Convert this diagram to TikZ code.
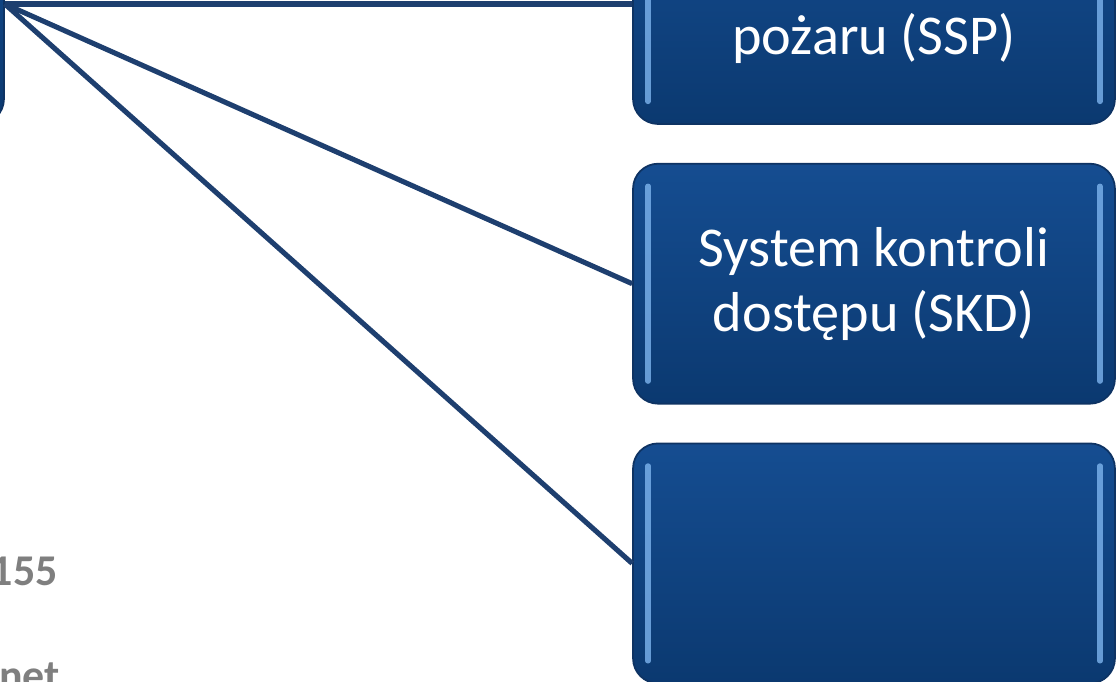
\documentclass[tikz,border=0pt]{standalone}
\usepackage{fontspec}
\setmainfont{Carlito}
\usetikzlibrary{positioning, shadings}

\definecolor{boxtop}{HTML}{154D91}
\definecolor{boxbottom}{HTML}{0B3970}
\definecolor{boxline}{HTML}{0E3363}
\definecolor{edgelight}{HTML}{7DB4EE}
\definecolor{linkblue}{HTML}{1E3F6F}
\definecolor{notegray}{HTML}{7F7F7F}

\begin{document}
\begin{tikzpicture}[x=0.02cm, y=-0.02cm,
		block/.style={
			rectangle,
			draw=boxline,
			line width=1pt,
			top color=boxtop,
			bottom color=boxbottom,
			minimum width=9.64cm,
			minimum height=4.8cm,
			rounded corners=0.5cm,
			align=center,
			text=white,
			font=\fontsize{32}{37}\selectfont,
			path picture={
				\draw [edgelight, line width=3pt, line cap=round, opacity=0.8]
					([xshift=0.3cm, yshift=-0.45cm]path picture bounding box.north west) --
					([xshift=0.3cm, yshift=0.45cm]path picture bounding box.south west);
				\draw [edgelight, line width=3pt, line cap=round, opacity=0.8]
					([xshift=-0.3cm, yshift=-0.45cm]path picture bounding box.north east) --
					([xshift=-0.3cm, yshift=0.45cm]path picture bounding box.south east);
			}
		},
		link/.style={line width=2.9pt, linkblue},
		note/.style={text=notegray, font=\fontsize{25}{30}\selectfont\bfseries, inner sep=0pt}]

		\useasboundingbox (0,0) rectangle (1117,682);

		\node [block] (centre) at (-237,4) {};
		\node [block] (ssp) at (874,4) {\strut\\pożaru (SSP)};
		\node [block, below=0.76cm of ssp] (skd) {System kontroli\\dostępu (SKD)};
		\node [block, below=0.76cm of skd] (blank) {};

		\node [note, anchor=base east] (phone) at (58,585) {155};
		\node [note, anchor=base east] (web) at (60,690) {net};

		\draw [link] (centre.east) -- (ssp.west);
		\draw [link] (centre.east) -- (skd.west);
		\draw [link] (centre.east) -- (blank.west);
	\end{tikzpicture}
\end{document}
